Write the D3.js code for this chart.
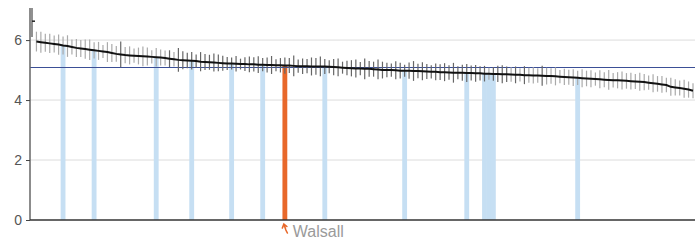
<!DOCTYPE html>
<html>
<head>
<meta charset="utf-8">
<script src="https://cdn.jsdelivr.net/npm/d3@7"></script>
<style>
  body { margin: 0; background: #fff; }
  text { font-family: Arial, "Liberation Sans", sans-serif; }
</style>
</head>
<body>
<script>
var w = 695;
var h = 240;
var margin = {top: 8, right: 0, bottom: 20, left: 30};

// ranked values (outlier drawn apart, at the far left)
var outlier = {value: 6.63, lo: 6.1, hi: 7.07};

var values = [
    5.95, 5.93, 5.91, 5.89, 5.87, 5.85, 5.82, 5.80, 5.77, 5.74,
    5.72, 5.70, 5.68, 5.66, 5.64, 5.62, 5.60, 5.57, 5.54, 5.52,
    5.50, 5.49, 5.48, 5.47, 5.46, 5.45, 5.44, 5.43, 5.42, 5.40,
    5.38, 5.36, 5.34, 5.33, 5.32, 5.31, 5.30, 5.28, 5.27, 5.26,
    5.25, 5.24, 5.23, 5.22, 5.22, 5.21, 5.20, 5.20, 5.19, 5.19,
    5.18, 5.18, 5.17, 5.17, 5.16, 5.16, 5.15, 5.15, 5.14, 5.13,
    5.13, 5.13, 5.12, 5.12, 5.12, 5.12, 5.11, 5.10, 5.09, 5.08,
    5.07, 5.06, 5.05, 5.05, 5.04, 5.04, 5.03, 5.02, 5.00, 5.00,
    5.00, 4.99, 4.98, 4.98, 4.98, 4.97, 4.97, 4.96, 4.95, 4.94,
    4.94, 4.93, 4.93, 4.92, 4.91, 4.91, 4.91, 4.90, 4.90, 4.89,
    4.89, 4.88, 4.88, 4.87, 4.87, 4.86, 4.86, 4.85, 4.84, 4.84,
    4.83, 4.83, 4.82, 4.82, 4.81, 4.80, 4.80, 4.79, 4.78, 4.77,
    4.76, 4.75, 4.74, 4.73, 4.72, 4.71, 4.70, 4.69, 4.68, 4.67,
    4.66, 4.66, 4.65, 4.64, 4.63, 4.62, 4.61, 4.60, 4.58, 4.56,
    4.54, 4.52, 4.50, 4.44, 4.42, 4.40, 4.38, 4.35, 4.31
];

// half width of each confidence interval
var ciHalf = [
    0.33, 0.35, 0.30, 0.32, 0.28, 0.34, 0.30, 0.36, 0.25, 0.30,
    0.28, 0.32, 0.34, 0.27, 0.30, 0.22, 0.33, 0.30, 0.26, 0.43,
    0.27, 0.30, 0.24, 0.28, 0.33, 0.30, 0.22, 0.31, 0.27, 0.25,
    0.28, 0.24, 0.40, 0.30, 0.26, 0.29, 0.22, 0.32, 0.27, 0.25,
    0.30, 0.28, 0.25, 0.22, 0.20, 0.26, 0.18, 0.23, 0.26, 0.24,
    0.28, 0.22, 0.25, 0.30, 0.20, 0.24, 0.27, 0.25, 0.35, 0.22,
    0.26, 0.24, 0.30, 0.28, 0.33, 0.25, 0.22, 0.27, 0.30, 0.20,
    0.24, 0.27, 0.30, 0.22, 0.35, 0.26, 0.25, 0.33, 0.28, 0.24,
    0.22, 0.30, 0.26, 0.20, 0.27, 0.33, 0.24, 0.30, 0.25, 0.22,
    0.28, 0.26, 0.30, 0.24, 0.33, 0.22, 0.27, 0.30, 0.25, 0.28,
    0.24, 0.26, 0.20, 0.23, 0.27, 0.30, 0.26, 0.24, 0.28, 0.22,
    0.30, 0.25, 0.27, 0.24, 0.33, 0.28, 0.26, 0.30, 0.22, 0.27,
    0.25, 0.28, 0.24, 0.30, 0.26, 0.28, 0.22, 0.30, 0.25, 0.33,
    0.24, 0.27, 0.30, 0.26, 0.28, 0.25, 0.30, 0.27, 0.24, 0.30,
    0.26, 0.28, 0.24, 0.30, 0.27, 0.25, 0.30, 0.27, 0.25
];

// positions (into values) of comparator areas and of the selected area
var comparators = [6, 13, 27, 35, 44, 51, 65, 83, 97, 101, 102, 103, 122];
var selected = 56;
var selectedName = "Walsall";
var average = 5.1;
var yTicks = [0, 2, 4, 6];

var svg = d3.select('body').append('svg')
    .attr('width', w)
    .attr('height', h);

// Scales - position 0 is the outlier, 1..n the ranked series
var xScale = d3.scaleLinear()
    .domain([0, values.length])
    .range([32, 693]);
var step = xScale(1) - xScale(0);

var yScale = d3.scaleLinear()
    .domain([0, 7.07])
    .range([h - margin.bottom, margin.top]);

// gridlines
svg.selectAll('.grid')
    .data(yTicks.filter(function (d) { return d > 0; }))
    .enter()
    .append('line')
    .attr('class', 'grid')
    .attr('x1', margin.left)
    .attr('x2', w)
    .attr('y1', function (d) { return yScale(d); })
    .attr('y2', function (d) { return yScale(d); })
    .attr('stroke', '#dcdcdc')
    .attr('stroke-width', 1);

// comparator bars
svg.selectAll('.comp')
    .data(comparators)
    .enter()
    .append('rect')
    .attr('class', 'comp')
    .attr('x', function (d) { return xScale(d + 1) - step / 2 - 0.2; })
    .attr('width', step + 0.4)
    .attr('y', function (d) { return yScale(values[d]); })
    .attr('height', function (d) { return yScale(0) - yScale(values[d]); })
    .attr('fill', '#c6dff3');

// selected area bar
svg.append('rect')
    .attr('x', xScale(selected + 1) - step / 2 - 0.2)
    .attr('width', step + 0.4)
    .attr('y', yScale(values[selected]))
    .attr('height', yScale(0) - yScale(values[selected]))
    .attr('fill', '#e8682a');

// average line
svg.append('line')
    .attr('x1', margin.left)
    .attr('x2', w)
    .attr('y1', Math.round(yScale(average)) + 0.5)
    .attr('y2', Math.round(yScale(average)) + 0.5)
    .attr('stroke', '#3b4f96')
    .attr('stroke-width', 1);

// error bars
svg.selectAll('.err')
    .data(values)
    .enter()
    .append('line')
    .attr('class', 'err')
    .attr('x1', function (d, i) { return xScale(i + 1); })
    .attr('x2', function (d, i) { return xScale(i + 1); })
    .attr('y1', function (d, i) { return yScale(d + ciHalf[i]); })
    .attr('y2', function (d, i) { return yScale(d - ciHalf[i]); })
    .attr('stroke', function (d, i) {
        // darker where the interval overlaps the average
        return (d - ciHalf[i] <= average && d + ciHalf[i] >= average) ? '#666' : '#aaa';
    })
    .attr('stroke-width', 1.2);

// outlier
svg.append('line')
    .attr('x1', xScale(0)).attr('x2', xScale(0))
    .attr('y1', yScale(outlier.hi)).attr('y2', yScale(outlier.lo))
    .attr('stroke', '#555')
    .attr('stroke-width', 1.3);
svg.append('line')
    .attr('x1', xScale(0)).attr('x2', xScale(0) + 3)
    .attr('y1', yScale(outlier.value)).attr('y2', yScale(outlier.value))
    .attr('stroke', '#222')
    .attr('stroke-width', 1.5);

// value line
var line = d3.line()
    .x(function (d, i) { return xScale(i + 1); })
    .y(function (d) { return yScale(d); });

svg.append('path')
    .datum(values)
    .attr('d', line)
    .attr('fill', 'none')
    .attr('stroke', '#111')
    .attr('stroke-width', 2);

// Y-axis
var yAxis = d3.axisLeft(yScale)
    .tickValues(yTicks)
    .tickSize(4)
    .tickPadding(4)
    .tickFormat(d3.format('d'));

var gy = svg.append('g')
    .attr('transform', 'translate(' + margin.left + ',0)')
    .call(yAxis);
gy.select('.domain').attr('stroke', '#666').attr('stroke-width', 1.5)
    .attr('d', 'M0,' + yScale(0) + 'V' + margin.top);
gy.selectAll('.tick line').attr('stroke', '#444');
gy.selectAll('.tick text')
    .attr('fill', '#555')
    .style('font-size', '14px');

// X baseline
svg.append('line')
    .attr('x1', margin.left)
    .attr('x2', w)
    .attr('y1', yScale(0))
    .attr('y2', yScale(0))
    .attr('stroke', '#333')
    .attr('stroke-width', 1.5);

// selected area label with arrow
var sx = xScale(selected + 1);
var by = yScale(0);
svg.append('path')
    .attr('d', 'M' + (sx - 2.5) + ',' + (by + 8) + 'L' + (sx - 1) + ',' + (by + 4) + 'L' + (sx + 2) + ',' + (by + 6.5)
        + 'M' + (sx - 1) + ',' + (by + 4) + 'L' + (sx + 1) + ',' + (by + 10) + 'L' + (sx + 2.5) + ',' + (by + 13))
    .attr('fill', 'none')
    .attr('stroke', '#e8682a')
    .attr('stroke-width', 1.6)
    .attr('stroke-linecap', 'round');

svg.append('text')
    .attr('x', sx + 8)
    .attr('y', by + 17)
    .attr('fill', '#9a9a9a')
    .style('font-size', '16px')
    .text(selectedName);
</script>
</body>
</html>
